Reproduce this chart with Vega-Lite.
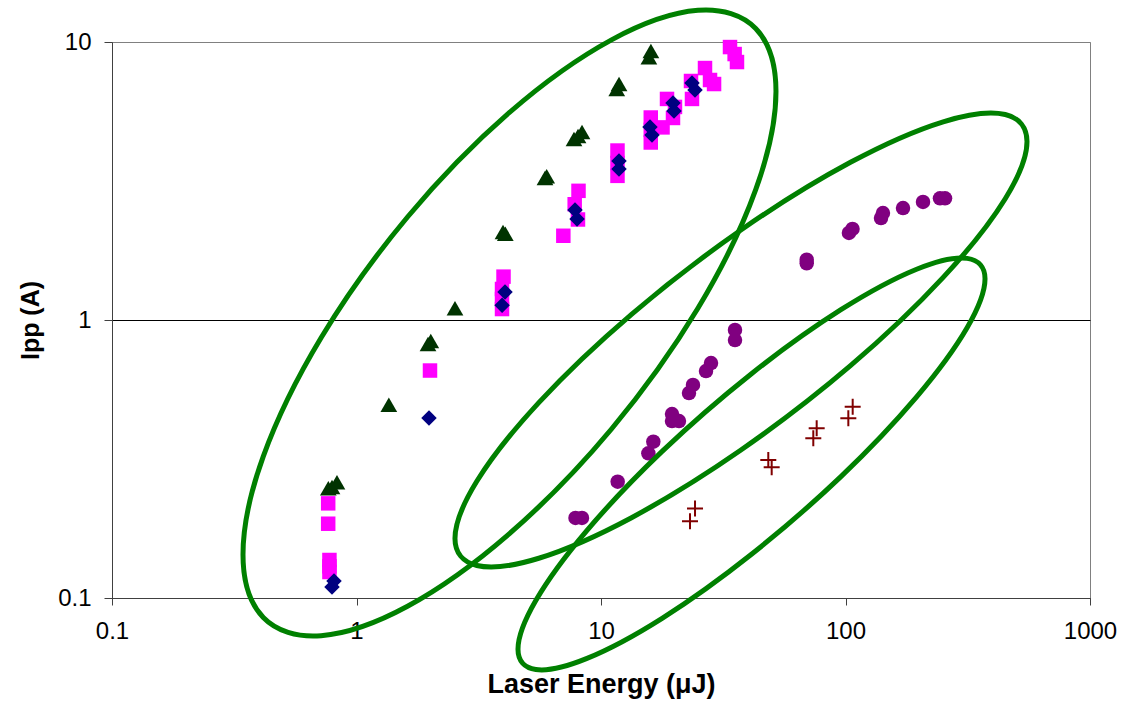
{
  "$schema": "https://vega.github.io/schema/vega-lite/v6.json",
  "autosize": {"type": "none"},
  "width": 978,
  "height": 556,
  "padding": {"left": 112, "top": 42, "right": 41, "bottom": 104},
  "background": "white",
  "config": {
    "view": {"stroke": "#808080", "strokeWidth": 1},
    "axis": {
      "labelFont": "Liberation Sans",
      "labelFontSize": 24,
      "labelColor": "#000000",
      "titleFont": "Liberation Sans",
      "titleFontWeight": "bold",
      "titleColor": "#000000",
      "domainColor": "#404040",
      "tickColor": "#404040",
      "labelFlush": false,
      "labelOverlap": false
    }
  },
  "datasets": {
    "points": [
      {"s": "sq", "x": 0.766, "y": 0.219},
      {"s": "sq", "x": 0.766, "y": 0.185},
      {"s": "sq", "x": 0.775, "y": 0.137},
      {"s": "sq", "x": 0.775, "y": 0.130},
      {"s": "sq", "x": 0.775, "y": 0.124},
      {"s": "sq", "x": 1.998, "y": 0.658},
      {"s": "sq", "x": 3.993, "y": 1.432},
      {"s": "sq", "x": 3.937, "y": 1.293},
      {"s": "sq", "x": 3.937, "y": 1.190},
      {"s": "sq", "x": 3.937, "y": 1.095},
      {"s": "sq", "x": 7.014, "y": 2.009},
      {"s": "sq", "x": 8.091, "y": 2.915},
      {"s": "sq", "x": 7.805, "y": 2.609},
      {"s": "sq", "x": 8.05, "y": 2.299},
      {"s": "sq", "x": 11.68, "y": 4.07},
      {"s": "sq", "x": 11.68, "y": 3.67},
      {"s": "sq", "x": 11.68, "y": 3.30},
      {"s": "sq", "x": 15.98, "y": 5.35},
      {"s": "sq", "x": 15.98, "y": 4.83},
      {"s": "sq", "x": 15.98, "y": 4.35},
      {"s": "sq", "x": 17.85, "y": 4.93},
      {"s": "sq", "x": 18.62, "y": 6.24},
      {"s": "sq", "x": 20.07, "y": 5.84},
      {"s": "sq", "x": 19.7, "y": 5.33},
      {"s": "sq", "x": 23.34, "y": 7.24},
      {"s": "sq", "x": 23.56, "y": 6.24},
      {"s": "sq", "x": 26.63, "y": 8.06},
      {"s": "sq", "x": 27.92, "y": 7.30},
      {"s": "sq", "x": 29.0, "y": 7.06},
      {"s": "sq", "x": 33.7, "y": 9.59},
      {"s": "sq", "x": 35.99, "y": 8.47},
      {"s": "sq", "x": 35.2, "y": 9.05},
      {"s": "di", "x": 0.794, "y": 0.1096},
      {"s": "di", "x": 0.809, "y": 0.1151},
      {"s": "di", "x": 1.979, "y": 0.444},
      {"s": "di", "x": 3.94, "y": 1.13},
      {"s": "di", "x": 4.05, "y": 1.26},
      {"s": "di", "x": 7.83, "y": 2.487},
      {"s": "di", "x": 7.98, "y": 2.308},
      {"s": "di", "x": 11.85, "y": 3.73},
      {"s": "di", "x": 11.85, "y": 3.49},
      {"s": "di", "x": 15.86, "y": 4.95},
      {"s": "di", "x": 16.17, "y": 4.63},
      {"s": "di", "x": 19.7, "y": 6.03},
      {"s": "di", "x": 19.89, "y": 5.65},
      {"s": "di", "x": 23.56, "y": 7.12},
      {"s": "di", "x": 24.24, "y": 6.72},
      {"s": "tri", "x": 0.767, "y": 0.248},
      {"s": "tri", "x": 0.794, "y": 0.251},
      {"s": "tri", "x": 0.832, "y": 0.261},
      {"s": "tri", "x": 1.356, "y": 0.496},
      {"s": "tri", "x": 2.013, "y": 0.840},
      {"s": "tri", "x": 1.961, "y": 0.820},
      {"s": "tri", "x": 2.528, "y": 1.102},
      {"s": "tri", "x": 4.061, "y": 2.043},
      {"s": "tri", "x": 3.974, "y": 2.073},
      {"s": "tri", "x": 5.996, "y": 3.288},
      {"s": "tri", "x": 5.90, "y": 3.242},
      {"s": "tri", "x": 7.755, "y": 4.478},
      {"s": "tri", "x": 8.362, "y": 4.746},
      {"s": "tri", "x": 8.054, "y": 4.591},
      {"s": "tri", "x": 11.6, "y": 6.77},
      {"s": "tri", "x": 11.85, "y": 7.06},
      {"s": "tri", "x": 15.7, "y": 8.82},
      {"s": "tri", "x": 16.0, "y": 9.28},
      {"s": "ci", "x": 7.865, "y": 0.194},
      {"s": "ci", "x": 8.36, "y": 0.194},
      {"s": "ci", "x": 11.70, "y": 0.262},
      {"s": "ci", "x": 16.37, "y": 0.365},
      {"s": "ci", "x": 15.62, "y": 0.3315},
      {"s": "ci", "x": 19.52, "y": 0.459},
      {"s": "ci", "x": 20.84, "y": 0.433},
      {"s": "ci", "x": 19.52, "y": 0.433},
      {"s": "ci", "x": 23.78, "y": 0.584},
      {"s": "ci", "x": 22.9, "y": 0.546},
      {"s": "ci", "x": 28.18, "y": 0.700},
      {"s": "ci", "x": 26.88, "y": 0.655},
      {"s": "ci", "x": 35.32, "y": 0.921},
      {"s": "ci", "x": 35.32, "y": 0.847},
      {"s": "ci", "x": 69.4, "y": 1.648},
      {"s": "ci", "x": 69.4, "y": 1.60},
      {"s": "ci", "x": 106.8, "y": 2.125},
      {"s": "ci", "x": 103.3, "y": 2.056},
      {"s": "ci", "x": 142.3, "y": 2.426},
      {"s": "ci", "x": 139.7, "y": 2.327},
      {"s": "ci", "x": 171.9, "y": 2.528},
      {"s": "ci", "x": 207.5, "y": 2.658},
      {"s": "ci", "x": 243.5, "y": 2.741},
      {"s": "ci", "x": 255.3, "y": 2.741},
      {"s": "cr", "x": 24.24, "y": 0.210},
      {"s": "cr", "x": 23.12, "y": 0.189},
      {"s": "cr", "x": 48.33, "y": 0.3135},
      {"s": "cr", "x": 49.9, "y": 0.2953},
      {"s": "cr", "x": 76.23, "y": 0.4077},
      {"s": "cr", "x": 73.84, "y": 0.3754},
      {"s": "cr", "x": 107.0, "y": 0.4876},
      {"s": "cr", "x": 102.7, "y": 0.4430}
    ],
    "ellipses": [
      {"e": 1, "i": 1, "x": 51.96, "y": 6.642},
      {"e": 1, "i": 2, "x": 42.93, "y": 11.18},
      {"e": 1, "i": 3, "x": 24.91, "y": 13.00},
      {"e": 1, "i": 4, "x": 11.04, "y": 10.18},
      {"e": 1, "i": 5, "x": 4.225, "y": 5.581},
      {"e": 1, "i": 6, "x": 1.617, "y": 2.347},
      {"e": 1, "i": 7, "x": 0.7166, "y": 0.8636},
      {"e": 1, "i": 8, "x": 0.4157, "y": 0.3234},
      {"e": 1, "i": 9, "x": 0.3434, "y": 0.1434},
      {"e": 1, "i": 10, "x": 0.4157, "y": 0.0851},
      {"e": 1, "i": 11, "x": 0.7166, "y": 0.0732},
      {"e": 1, "i": 12, "x": 1.617, "y": 0.0934},
      {"e": 1, "i": 13, "x": 4.225, "y": 0.1705},
      {"e": 1, "i": 14, "x": 11.04, "y": 0.4055},
      {"e": 1, "i": 15, "x": 24.91, "y": 1.102},
      {"e": 1, "i": 16, "x": 42.93, "y": 2.943},
      {"e": 2, "i": 1, "x": 552.5, "y": 4.386},
      {"e": 2, "i": 2, "x": 450.1, "y": 5.485},
      {"e": 2, "i": 3, "x": 250.9, "y": 5.164},
      {"e": 2, "i": 4, "x": 104.8, "y": 3.692},
      {"e": 2, "i": 5, "x": 37.36, "y": 2.107},
      {"e": 2, "i": 6, "x": 13.33, "y": 1.048},
      {"e": 2, "i": 7, "x": 5.567, "y": 0.5045},
      {"e": 2, "i": 8, "x": 3.105, "y": 0.2629},
      {"e": 2, "i": 9, "x": 2.528, "y": 0.1637},
      {"e": 2, "i": 10, "x": 3.105, "y": 0.1309},
      {"e": 2, "i": 11, "x": 5.567, "y": 0.1390},
      {"e": 2, "i": 12, "x": 13.33, "y": 0.1945},
      {"e": 2, "i": 13, "x": 37.36, "y": 0.3406},
      {"e": 2, "i": 14, "x": 104.8, "y": 0.6848},
      {"e": 2, "i": 15, "x": 250.9, "y": 1.423},
      {"e": 2, "i": 16, "x": 450.1, "y": 2.731},
      {"e": 3, "i": 1, "x": 372.1, "y": 1.407},
      {"e": 3, "i": 2, "x": 314.7, "y": 1.666},
      {"e": 3, "i": 3, "x": 195.4, "y": 1.523},
      {"e": 3, "i": 4, "x": 95.77, "y": 1.089},
      {"e": 3, "i": 5, "x": 41.26, "y": 0.6409},
      {"e": 3, "i": 6, "x": 17.78, "y": 0.3368},
      {"e": 3, "i": 7, "x": 8.715, "y": 0.1740},
      {"e": 3, "i": 8, "x": 5.412, "y": 0.0979},
      {"e": 3, "i": 9, "x": 4.576, "y": 0.0654},
      {"e": 3, "i": 10, "x": 5.412, "y": 0.0553},
      {"e": 3, "i": 11, "x": 8.715, "y": 0.0605},
      {"e": 3, "i": 12, "x": 17.78, "y": 0.0845},
      {"e": 3, "i": 13, "x": 41.26, "y": 0.1437},
      {"e": 3, "i": 14, "x": 95.77, "y": 0.2733},
      {"e": 3, "i": 15, "x": 195.4, "y": 0.5290},
      {"e": 3, "i": 16, "x": 314.7, "y": 0.9397}
    ]
  },
  "encoding": {
    "x": {
      "field": "x", "type": "quantitative",
      "scale": {"type": "log", "domain": [0.1, 1000], "nice": false},
      "axis": {
        "title": "Laser Energy (μJ)",
        "titleFontSize": 27,
        "titlePadding": 28,
        "values": [0.1, 1, 10, 100, 1000],
        "format": "~g",
        "grid": false,
        "tickSize": 7,
        "labelPadding": 14
      }
    },
    "y": {
      "field": "y", "type": "quantitative",
      "scale": {"type": "log", "domain": [0.1, 10], "nice": false},
      "axis": {
        "title": "Ipp (A)",
        "titleFontSize": 25,
        "titlePadding": 14,
        "values": [0.1, 1, 10],
        "format": "~g",
        "grid": true,
        "gridColor": {"condition": {"test": "datum.value >= 10", "value": "#808080"}, "value": "#000000"},
        "gridOpacity": 1,
        "gridWidth": 1,
        "tickSize": 8,
        "labelPadding": 13
      }
    }
  },
  "layer": [
    {
      "data": {"name": "points"},
      "transform": [{"filter": "datum.s == 'sq'"}],
      "mark": {"type": "point", "shape": "square", "filled": true, "color": "#FF00FF", "size": 210, "opacity": 1}
    },
    {
      "data": {"name": "points"},
      "transform": [{"filter": "datum.s == 'di'"}],
      "mark": {"type": "point", "shape": "diamond", "filled": true, "color": "#000080", "size": 240, "opacity": 1}
    },
    {
      "data": {"name": "points"},
      "transform": [{"filter": "datum.s == 'tri'"}],
      "mark": {"type": "point", "shape": "triangle-up", "filled": true, "color": "#003300", "size": 280, "opacity": 1}
    },
    {
      "data": {"name": "points"},
      "transform": [{"filter": "datum.s == 'ci'"}],
      "mark": {"type": "point", "shape": "circle", "filled": true, "color": "#800080", "size": 210, "opacity": 1}
    },
    {
      "data": {"name": "points"},
      "transform": [{"filter": "datum.s == 'cr'"}],
      "mark": {"type": "point", "shape": "M-1,0L1,0M0,-1L0,1", "filled": false, "color": "#800000", "size": 256, "strokeWidth": 2, "opacity": 1}
    },
    {
      "data": {"name": "ellipses"},
      "mark": {"type": "line", "interpolate": "cardinal-closed", "color": "#008000", "strokeWidth": 5},
      "encoding": {
        "detail": {"field": "e", "type": "nominal"},
        "order": {"field": "i", "type": "quantitative"}
      }
    }
  ]
}
